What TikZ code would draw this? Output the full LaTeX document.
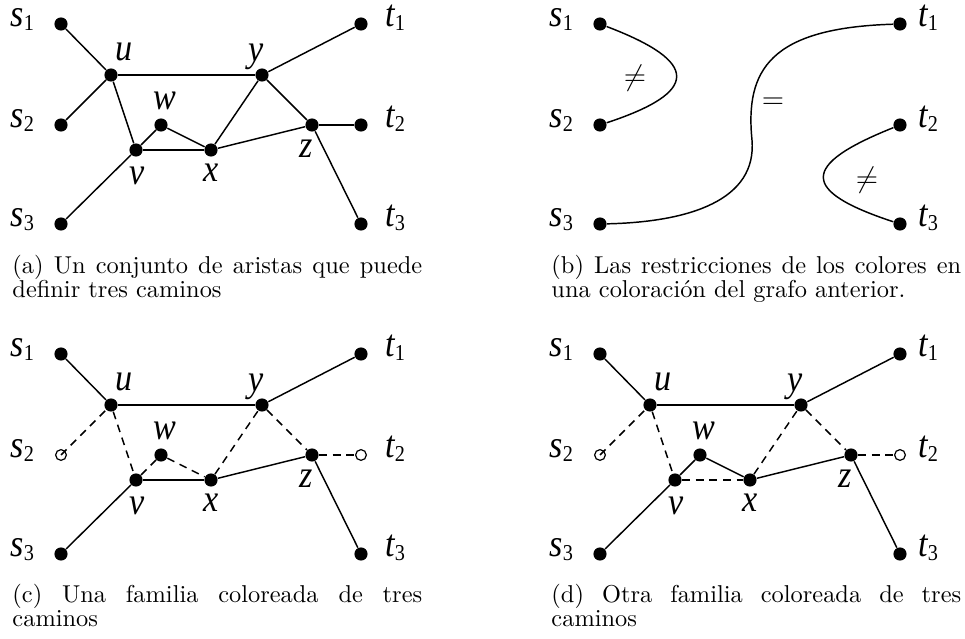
\documentclass[tikz,border=0pt]{standalone}
\usepackage{fontspec}
\usepackage{graphicx}
\newfontfamily\labfont{Liberation Serif}
\usetikzlibrary{calc}
\tikzset{
  dot/.style={circle,fill=black,inner sep=0pt,minimum size=5.4pt},
  odot/.style={circle,draw=black,line width=0.5pt,inner sep=0pt,minimum size=4.4pt},
  lab/.style={anchor=base west,inner sep=0pt,font=\labfont\fontsize{14}{16}\selectfont\itshape},
  solidline/.style={line width=0.6pt},
  dsh/.style={line width=0.6pt,dash pattern=on 3.2pt off 2.4pt},
  captext/.style={anchor=base west,inner sep=0pt,font=\fontsize{10}{12}\selectfont},
  sym/.style={inner sep=0pt,font=\fontsize{12}{14}\selectfont},
}
\newcommand\tall[1]{\scalebox{1}[1.12]{#1}}
\newcommand\sub[2]{\tall{#1}\raisebox{-1.6pt}{\upshape\fontsize{8.3}{9}\selectfont\tall{#2}}}
\newcommand\terms[3]{%
  \node[dot] (#1s1) at (61,24) {};
  \node[#2] (#1s2) at (61,125) {};
  \node[dot] (#1s3) at (61,224) {};
  \node[dot] (#1t1) at (361,24) {};
  \node[#2] (#1t2) at (361,125) {};
  \node[dot] (#1t3) at (361,224) {};
  \node[lab] (#1ls1) at (10,27) {\sub{s}{1}};
  \node[lab] (#1ls2) at (10,128) {\sub{s}{2}};
  \node[lab] (#1ls3) at (10,227) {\sub{s}{3}};
  \node[lab] (#1lt1) at (361+#3,27) {\sub{t}{1}};
  \node[lab] (#1lt2) at (361+#3,128) {\sub{t}{2}};
  \node[lab] (#1lt3) at (361+#3,227) {\sub{t}{3}};
}
\newcommand\inner[1]{%
  \node[dot] (#1u) at (111,75) {};
  \node[dot] (#1y) at (262,75) {};
  \node[dot] (#1w) at (161,125) {};
  \node[dot] (#1z) at (312,125) {};
  \node[dot] (#1v) at (136,150) {};
  \node[dot] (#1x) at (211,150) {};
  \node[lab] (#1lu) at (115,61) {\tall{u}};
  \node[lab] (#1ly) at (248,62) {\tall{y}};
  \node[lab] (#1lw) at (153,110) {\tall{w}};
  \node[lab] (#1lv) at (129,185) {\tall{v}};
  \node[lab] (#1lx) at (203,182) {\tall{x}};
  \node[lab] (#1lz) at (299,158) {\tall{z}};
}
\begin{document}
\begin{tikzpicture}[x=0.41pt,y=-0.41pt]
\useasboundingbox (0,0) rectangle (965,639);
% (a)
\begin{scope}
  \terms{a}{dot}{24}
  \inner{a}
  \draw[solidline] (as1) -- (au);
  \draw[solidline] (as2) -- (au);
  \draw[solidline] (au) -- (ay);
  \draw[solidline] (au) -- (av);
  \draw[solidline] (av) -- (as3);
  \draw[solidline] (av) -- (aw);
  \draw[solidline] (av) -- (ax);
  \draw[solidline] (aw) -- (ax);
  \draw[solidline] (ax) -- (ay);
  \draw[solidline] (ax) -- (az);
  \draw[solidline] (ay) -- (az);
  \draw[solidline] (ay) -- (at1);
  \draw[solidline] (az) -- (at2);
  \draw[solidline] (az) -- (at3);
\end{scope}
% (b)
\begin{scope}[shift={(539,0)}]
  \terms{b}{dot}{18}
  \coordinate (bm) at (213,140);
  \draw[solidline] (bs1) .. controls (161,62) and (161,92) .. (bs2);
  \draw[solidline] (bt2) .. controls (261,165) and (261,191) .. (bt3);
  \draw[solidline] (bs3) .. controls (151,222) and (218,200) .. (bm)
                    .. controls (206,70) and (231,28) .. (bt1);
  \node[sym] (bne1) at (96,78) {$\neq$};
  \node[sym] (beq) at (234,103) {$=$};
  \node[sym] (bne2) at (328,180) {$\neq$};
\end{scope}
% (c)
\begin{scope}[shift={(0,330)}]
  \terms{c}{odot}{24}
  \inner{c}
  \draw[solidline] (cs1) -- (cu);
  \draw[solidline] (cu) -- (cy);
  \draw[solidline] (cy) -- (ct1);
  \draw[solidline] (cv) -- (cx);
  \draw[solidline] (cx) -- (cz);
  \draw[solidline] (cz) -- (ct3);
  \draw[solidline] (cv) -- (cs3);
  \draw[dsh] (cs2.center) -- (cu);
  \draw[dsh] (cu) -- (cv);
  \draw[dsh] (cv) -- (cw);
  \draw[dsh] (cw) -- (cx);
  \draw[dsh] (cx) -- (cy);
  \draw[dsh] (cy) -- (cz);
  \draw[dsh] (cz) -- (ct2);
\end{scope}
% (d)
\begin{scope}[shift={(539,330)}]
  \terms{d}{odot}{18}
  \inner{d}
  \draw[solidline] (ds1) -- (du);
  \draw[solidline] (du) -- (dy);
  \draw[solidline] (dy) -- (dt1);
  \draw[solidline] (dv) -- (dw);
  \draw[solidline] (dw) -- (dx);
  \draw[solidline] (dx) -- (dz);
  \draw[solidline] (dz) -- (dt3);
  \draw[solidline] (dv) -- (ds3);
  \draw[dsh] (ds2.center) -- (du);
  \draw[dsh] (du) -- (dv);
  \draw[dsh] (dv) -- (dx);
  \draw[dsh] (dx) -- (dy);
  \draw[dsh] (dy) -- (dz);
  \draw[dsh] (dz) -- (dt2);
\end{scope}
% captions
\node[captext] (capa1) at (12,274) {\hbox to 168pt{(a) Un conjunto de aristas que puede}};
\node[captext] (capa2) at (12,298) {definir tres caminos};
\node[captext] (capb1) at (551,274) {\hbox to 168pt{(b) Las restricciones de los colores en}};
\node[captext] (capb2) at (551,298) {una coloración del grafo anterior.};
\node[captext] (capc1) at (12,603) {\hbox to 168pt{(c) Una familia coloreada de tres}};
\node[captext] (capc2) at (12,627) {caminos};
\node[captext] (capd1) at (551,603) {\hbox to 168pt{(d) Otra familia coloreada de tres}};
\node[captext] (capd2) at (551,627) {caminos};
\end{tikzpicture}
\end{document}
